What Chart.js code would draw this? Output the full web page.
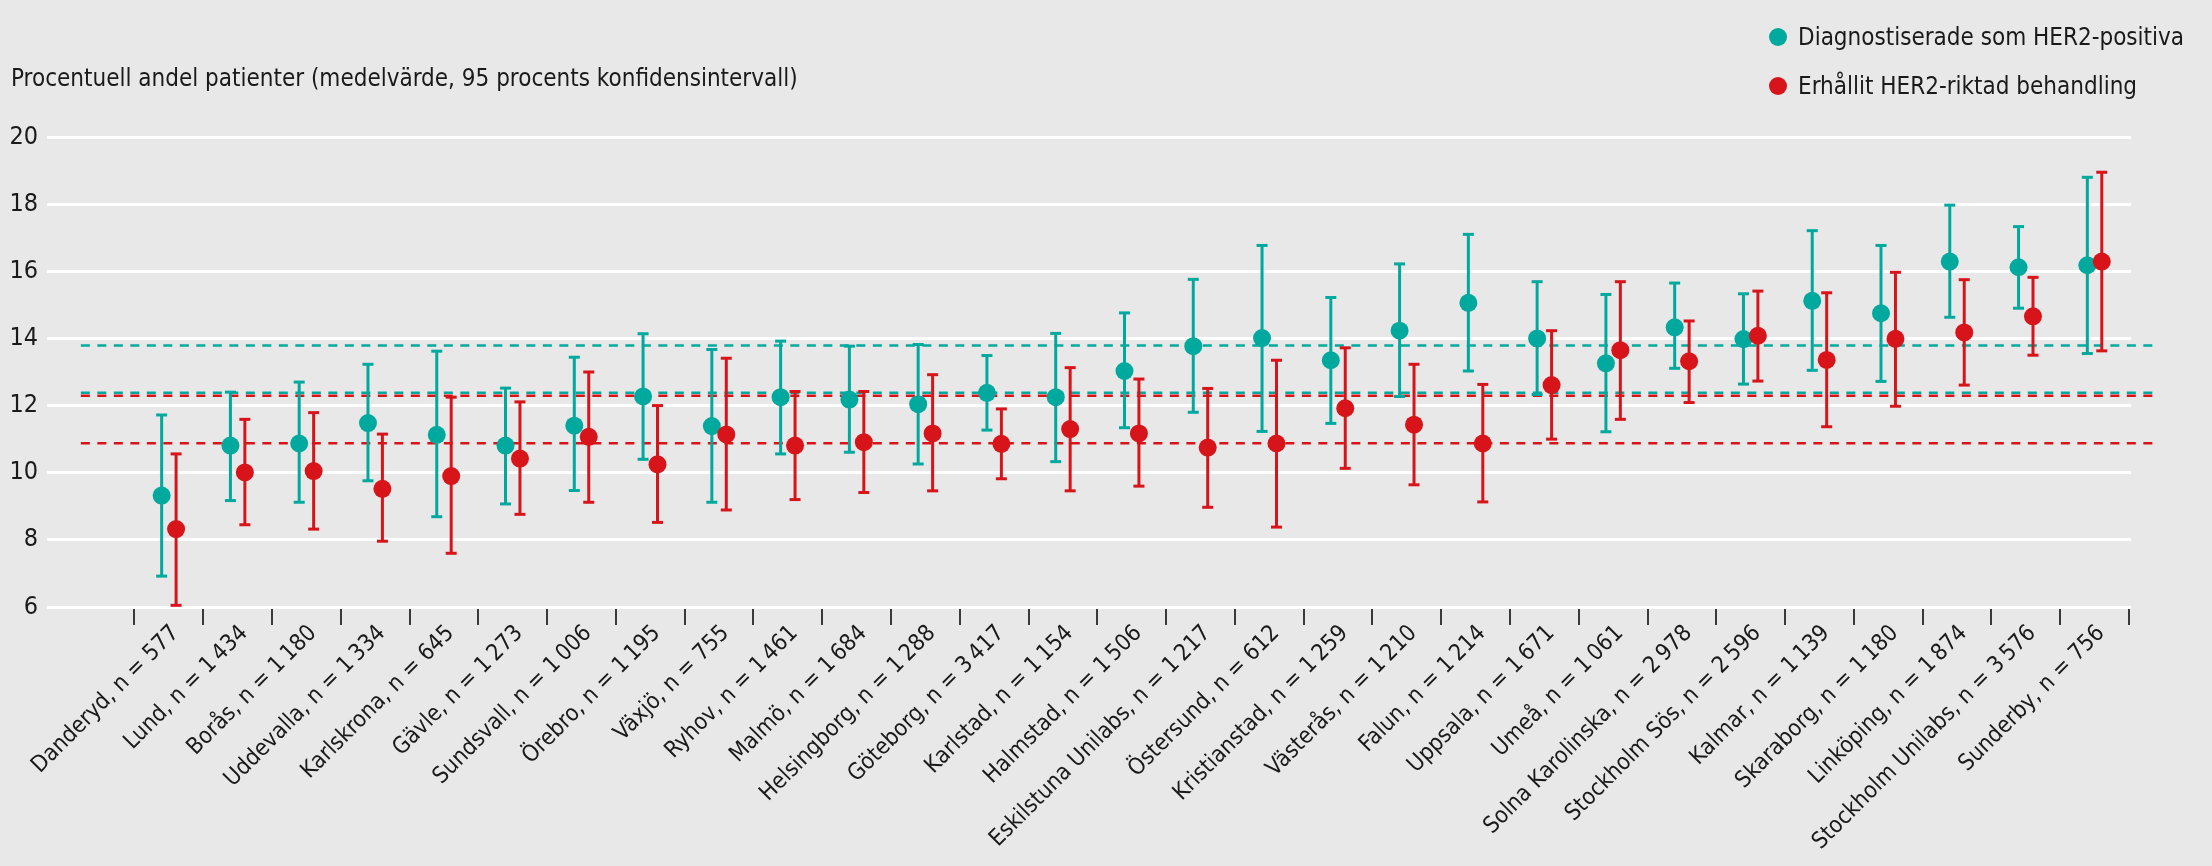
<!DOCTYPE html>
<html lang="sv">
<head>
<meta charset="utf-8">
<title>HER2</title>
<script src="https://cdn.jsdelivr.net/npm/chart.js@4.4.1/dist/chart.umd.min.js"></script>
<style>
  html, body { margin: 0; padding: 0; background: #e8e8e8; }
  #wrap { position: relative; width: 2212px; height: 866px; overflow: hidden; background: #e8e8e8; }
  #chart { position: absolute; left: 0; top: 0; }
  #title { position: absolute; left: 11px; top: 64px; font-family: 'Liberation Sans Narrow', 'DejaVu Sans Condensed', sans-serif; font-size: 24px; color: #1a1a1a; white-space: nowrap; line-height: 1.2; }
  #legend { position: absolute; left: 1769px; top: 12px; font-family: 'Liberation Sans Narrow', 'DejaVu Sans Condensed', sans-serif; font-size: 24px; color: #1a1a1a; }
  .li { display: flex; align-items: center; height: 49px; white-space: nowrap; }
  .dot { width: 18px; height: 18px; border-radius: 50%; margin-right: 11px; flex: none; }
</style>
</head>
<body>
<div id="wrap">
  <canvas id="chart" width="2212" height="866"></canvas>
  <div id="title">Procentuell andel patienter (medelvärde, 95 procents konfidensintervall)</div>
  <div id="legend"></div>
</div>
<script>
// ---- Data ----
const categories = [
  'Danderyd, n = 577', 'Lund, n = 1\u2009434', 'Borås, n = 1\u2009180', 'Uddevalla, n = 1\u2009334',
  'Karlskrona, n = 645', 'Gävle, n = 1\u2009273', 'Sundsvall, n = 1\u2009006', 'Örebro, n = 1\u2009195',
  'Växjö, n = 755', 'Ryhov, n = 1\u2009461', 'Malmö, n = 1\u2009684', 'Helsingborg, n = 1\u2009288',
  'Göteborg, n = 3\u2009417', 'Karlstad, n = 1\u2009154', 'Halmstad, n = 1\u2009506',
  'Eskilstuna Unilabs, n = 1\u2009217', 'Östersund, n = 612', 'Kristianstad, n = 1\u2009259',
  'Västerås, n = 1\u2009210', 'Falun, n = 1\u2009214', 'Uppsala, n = 1\u2009671', 'Umeå, n = 1\u2009061',
  'Solna Karolinska, n = 2\u2009978', 'Stockholm Sös, n = 2\u2009596', 'Kalmar, n = 1\u2009139',
  'Skaraborg, n = 1\u2009180', 'Linköping, n = 1\u2009874', 'Stockholm Unilabs, n = 3\u2009576',
  'Sunderby, n = 756'
];

const seriesNames = ['Diagnostiserade som HER2-positiva', 'Erhållit HER2-riktad behandling'];

const diagMean = [9.32, 10.81, 10.87, 11.48, 11.13, 10.81, 11.40, 12.27, 11.39, 12.25, 12.18, 12.04, 12.38, 12.25, 13.03, 13.77, 14.01, 13.35, 14.23, 15.06, 14.00, 13.26, 14.33, 13.98, 15.12, 14.75, 16.29, 16.12, 16.18];
const diagLow  = [6.92, 9.17, 9.12, 9.76, 8.69, 9.07, 9.47, 10.40, 9.12, 10.56, 10.61, 10.26, 11.27, 10.33, 11.34, 11.80, 11.23, 11.47, 12.27, 13.03, 12.33, 11.22, 13.11, 12.64, 13.05, 12.72, 14.63, 14.90, 13.55];
const diagHigh = [11.72, 12.40, 12.70, 13.23, 13.62, 12.52, 13.44, 14.14, 13.67, 13.92, 13.77, 13.82, 13.49, 14.15, 14.76, 15.76, 16.77, 15.22, 16.22, 17.10, 15.69, 15.31, 15.65, 15.33, 17.21, 16.77, 17.97, 17.33, 18.80];

const treatMean = [8.32, 10.01, 10.05, 9.52, 9.90, 10.42, 11.07, 10.25, 11.14, 10.81, 10.91, 11.17, 10.86, 11.30, 11.17, 10.75, 10.87, 11.92, 11.43, 10.87, 12.61, 13.65, 13.32, 14.08, 13.36, 13.99, 14.18, 14.66, 16.29];
const treatLow  = [6.05, 8.45, 8.32, 7.96, 7.60, 8.76, 9.12, 8.52, 8.89, 9.20, 9.41, 9.46, 9.82, 9.46, 9.60, 8.97, 8.38, 10.13, 9.64, 9.13, 11.00, 11.59, 12.09, 12.73, 11.37, 11.98, 12.61, 13.50, 13.63];
const treatHigh = [10.56, 11.59, 11.79, 11.15, 12.25, 12.11, 13.00, 12.00, 13.41, 12.42, 12.42, 12.92, 11.90, 13.13, 12.79, 12.51, 13.35, 13.72, 13.23, 12.63, 14.23, 15.69, 14.52, 15.41, 15.36, 15.97, 15.75, 15.82, 18.95];

const diagRefLines  = [13.79, 12.38];
const treatRefLines = [12.29, 10.88];

const yTicks = [6, 8, 10, 12, 14, 16, 18, 20];

// ---- Styling ----
const TEAL = '#00a99d';
const RED = '#d7141a';
const FONT = "'Liberation Sans Narrow', 'DejaVu Sans Condensed', sans-serif";
const SHIFT = 0.105;            // side-by-side offset within a category
const X_MIN = -1.272, X_MAX = 29.03;
const REF_FROM = -0.78, REF_TO = 29.35;

function pts(vals, dx) { return vals.map((v, i) => ({ x: i + 0.5 + dx, y: v })); }
function ranges(lo, hi, dx) { return lo.map((v, i) => ({ x: i + 0.5 + dx, y: [v, hi[i]] })); }

const datasets = [];
diagRefLines.forEach(v => datasets.push({ type: 'line', data: [{x: REF_FROM, y: v}, {x: REF_TO, y: v}], borderColor: TEAL, borderWidth: 2.5, borderDash: [9, 7.5], pointRadius: 0, clip: false, order: 20 }));
treatRefLines.forEach(v => datasets.push({ type: 'line', data: [{x: REF_FROM, y: v}, {x: REF_TO, y: v}], borderColor: RED, borderWidth: 2.5, borderDash: [9, 7.5], pointRadius: 0, clip: false, order: 19 }));

[[diagMean, diagLow, diagHigh, TEAL, -SHIFT, 10], [treatMean, treatLow, treatHigh, RED, SHIFT, 5]].forEach(([m, lo, hi, col, dx, o]) => {
  datasets.push({ type: 'bar', data: ranges(lo, hi, dx), backgroundColor: col, borderWidth: 0, grouped: false, maxBarThickness: 3, order: o + 3 });
  datasets.push({ type: 'scatter', data: pts(lo, dx).concat(pts(hi, dx)), pointStyle: 'line', pointRadius: 5.5, pointHoverRadius: 5.5, borderColor: col, borderWidth: 3, order: o + 2 });
  datasets.push({ type: 'scatter', label: col === TEAL ? seriesNames[0] : seriesNames[1], data: pts(m, dx), pointStyle: 'circle', pointRadius: 9, pointHoverRadius: 9, backgroundColor: col, borderWidth: 0, order: o + 1 });
});

const chart = new Chart(document.getElementById('chart'), {
  type: 'scatter',
  data: { datasets },
  options: {
    responsive: false,
    animation: false,
    devicePixelRatio: 1,
    events: [],
    layout: { padding: { left: 0, right: 81, top: 137, bottom: 0 } },
    plugins: { legend: { display: false }, tooltip: { enabled: false }, title: { display: false } },
    scales: {
      x: {
        type: 'linear', min: X_MIN, max: X_MAX, offset: false,
        afterBuildTicks: s => { s.ticks = categories.map((c, i) => ({ value: i })).concat([{ value: categories.length }]); },
        afterFit: s => { s.height = 259; s.paddingLeft = 0; s.paddingRight = 0; },
        grid: { offset: false, drawOnChartArea: false, drawTicks: true, tickLength: 18, color: '#3a3a3a', lineWidth: 2 },
        border: { display: false },
        ticks: {
          autoSkip: false, minRotation: 45, maxRotation: 45, labelOffset: 41, padding: -5,
          color: '#1a1a1a', font: { family: FONT, size: 23 },
          callback: v => (categories[v] !== undefined ? categories[v] : '')
        }
      },
      y: {
        type: 'linear', min: 6, max: 20,
        afterBuildTicks: s => { s.ticks = yTicks.map(v => ({ value: v })); },
        afterFit: s => { s.width = 47; s.paddingTop = 0; s.paddingBottom = 0; },
        grid: { color: '#ffffff', lineWidth: 3, drawTicks: false },
        border: { display: false },
        ticks: { padding: 9, color: '#1a1a1a', font: { family: FONT, size: 25 } }
      }
    }
  }
});

// HTML legend built from the datasets
const legend = document.getElementById('legend');
chart.data.datasets.filter(d => d.label).forEach(d => {
  const row = document.createElement('div'); row.className = 'li';
  const dot = document.createElement('span'); dot.className = 'dot'; dot.style.background = d.backgroundColor;
  const txt = document.createElement('span'); txt.textContent = d.label;
  row.appendChild(dot); row.appendChild(txt); legend.appendChild(row);
});
</script>
</body>
</html>
